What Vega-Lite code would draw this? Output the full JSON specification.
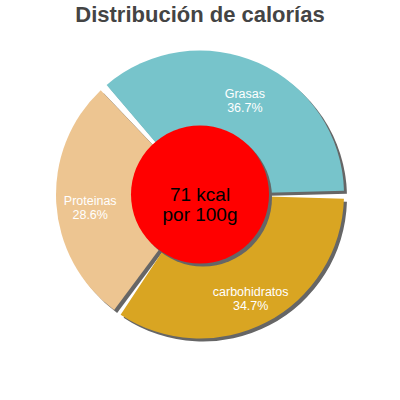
{
  "$schema": "https://vega.github.io/schema/vega-lite/v6.json",
  "width": 400,
  "height": 400,
  "autosize": {"type": "fit", "contains": "padding"},
  "padding": {"top": 4, "bottom": 42, "left": 0, "right": 0},
  "background": "white",
  "title": {
    "text": "Distribución de calorías",
    "fontSize": 22,
    "fontWeight": "bold",
    "font": "Liberation Sans",
    "color": "#444444",
    "anchor": "middle",
    "offset": 4
  },
  "config": {"view": {"stroke": null}},
  "layer": [
    {
      "data": {
        "values": [
          {"nutriente": "Grasas", "pct": 36.7, "orden": 1, "etiqueta": ["Grasas", "36.7%"]},
          {"nutriente": "carbohidratos", "pct": 34.7, "orden": 2, "etiqueta": ["carbohidratos", "34.7%"]},
          {"nutriente": "Proteinas", "pct": 28.6, "orden": 3, "etiqueta": ["Proteinas", "28.6%"]}
        ]
      },
      "encoding": {
        "theta": {"field": "pct", "type": "quantitative", "stack": true,
                  "scale": {"range": [-0.733, 5.550]}},
        "order": {"field": "orden", "type": "ordinal"}
      },
      "layer": [
        {
          "mark": {"type": "arc", "radius": 144, "padAngle": 0.055, "color": "#666666", "xOffset": 3, "yOffset": 3}
        },
        {
          "mark": {"type": "arc", "radius": 144, "padAngle": 0.055},
          "encoding": {
            "color": {"field": "nutriente", "type": "nominal", "legend": null,
                      "scale": {"domain": ["Grasas", "carbohidratos", "Proteinas"],
                                "range": ["#77c4cb", "#d9a522", "#edc591"]}}
          }
        },
        {
          "mark": {"type": "text", "radius": 110, "color": "white", "fontSize": 12.5, "letterSpacing": 0.6,
                   "font": "Liberation Sans", "align": "center", "baseline": "middle", "lineHeight": 14},
          "encoding": {"text": {"field": "etiqueta"}}
        }
      ]
    },
    {
      "data": {"values": [{"v": 1, "texto": ["71 kcal", "por 100g"]}]},
      "encoding": {"theta": {"field": "v", "type": "quantitative"}},
      "layer": [
        {"mark": {"type": "arc", "radius": 69, "color": "#666666", "xOffset": 3, "yOffset": 3}},
        {"mark": {"type": "arc", "radius": 69, "color": "#ff0000"}},
        {
          "mark": {"type": "text", "radius": 0, "color": "black", "fontSize": 19,
                   "font": "Liberation Sans", "align": "center", "baseline": "middle", "lineHeight": 20},
          "encoding": {"text": {"field": "texto"}}
        }
      ]
    }
  ],
  "resolve": {"scale": {"theta": "independent"}}
}
